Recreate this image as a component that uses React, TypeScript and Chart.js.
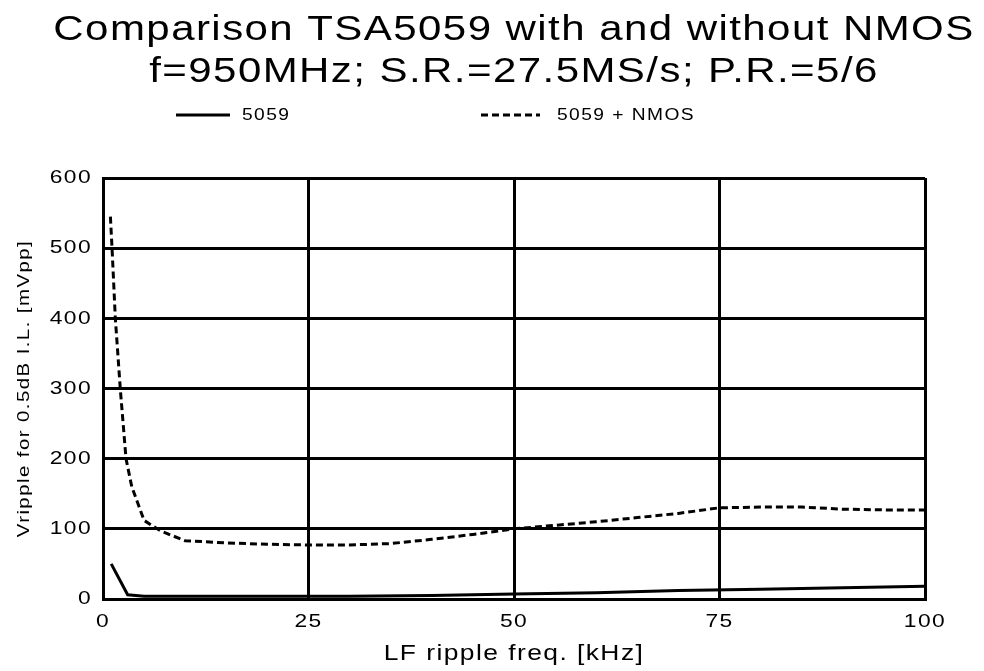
import { useEffect, useRef } from "react";
import { Chart, registerables } from "chart.js";

Chart.register(...registerables);

// ---- data ----
const titleLines = [
  "Comparison TSA5059 with and without NMOS",
  "f=950MHz; S.R.=27.5MS/s; P.R.=5/6",
];
const seriesNames = ["5059", "5059 + NMOS"];
const xAxisTitle = "LF ripple freq. [kHz]";
const yAxisTitle = "Vripple for 0.5dB I.L. [mVpp]";
const xTickValues = [0, 25, 50, 75, 100];
const yTickValues = [0, 100, 200, 300, 400, 500, 600];

const freqPlain = [1, 3, 5, 10, 20, 30, 40, 45, 50, 60, 70, 80, 90, 100];
const ripplePlain = [50, 6, 4, 4, 4, 4, 5, 6, 7, 9, 12, 14, 16, 18];

const freqNmos = [0.9, 1.1, 1.5, 2.1, 2.8, 3.5, 5, 7, 10, 15, 20, 25, 30, 35, 40, 45, 50, 55, 60, 65, 70, 75, 80, 85, 90, 95, 100];
const rippleNmos = [545, 500, 400, 300, 200, 160, 112, 97, 83, 80, 78, 77, 77, 79, 85, 92, 100, 105, 110, 116, 122, 130, 131, 131, 128, 127, 127];

// ---- text look: wide, lightly spaced glyphs ----
const TEXT_STRETCH = 1.2;
const LETTER_SPACING = "1.2px";
const FONT = "'Liberation Sans', Arial, sans-serif";

const stretchTextPlugin = {
  id: "stretchText",
  beforeInit(chart: any) {
    const ctx = chart.ctx as any;
    if (ctx.__stretched) return;
    const fill = ctx.fillText.bind(ctx);
    const measure = ctx.measureText.bind(ctx);
    ctx.fillText = (text: string, x: number, y: number) => {
      ctx.save();
      ctx.letterSpacing = LETTER_SPACING;
      ctx.translate(x, y);
      ctx.scale(TEXT_STRETCH, 1);
      fill(text, 0, 0);
      ctx.restore();
    };
    ctx.measureText = (text: string) => {
      const prev = ctx.letterSpacing;
      ctx.letterSpacing = LETTER_SPACING;
      const m = measure(text);
      ctx.letterSpacing = prev;
      return {
        width: m.width * TEXT_STRETCH,
        actualBoundingBoxAscent: m.actualBoundingBoxAscent,
        actualBoundingBoxDescent: m.actualBoundingBoxDescent,
        actualBoundingBoxLeft: m.actualBoundingBoxLeft * TEXT_STRETCH,
        actualBoundingBoxRight: m.actualBoundingBoxRight * TEXT_STRETCH,
        fontBoundingBoxAscent: m.fontBoundingBoxAscent,
        fontBoundingBoxDescent: m.fontBoundingBoxDescent,
      };
    };
    ctx.__stretched = true;
  },
};

// legend with line samples placed above the plot
const lineLegendPlugin = {
  id: "lineLegend",
  afterDraw(chart: any) {
    const { ctx, chartArea } = chart;
    const y = chartArea.top - 63;
    const slots = [
      { x0: 73, x1: 127, tx: 139 },
      { x0: 378, x1: 437, tx: 454 },
    ];
    chart.data.datasets.forEach((ds: any, i: number) => {
      const s = slots[i];
      if (!s) return;
      ctx.save();
      ctx.strokeStyle = ds.borderColor;
      ctx.lineWidth = ds.borderWidth;
      ctx.setLineDash(ds.borderDash || []);
      ctx.beginPath();
      ctx.moveTo(chartArea.left + s.x0, y);
      ctx.lineTo(chartArea.left + s.x1, y);
      ctx.stroke();
      ctx.setLineDash([]);
      ctx.fillStyle = "#000";
      ctx.font = `16px ${FONT}`;
      ctx.textAlign = "left";
      ctx.textBaseline = "middle";
      ctx.fillText(ds.label, chartArea.left + s.tx, y + 1);
      ctx.restore();
    });
  },
};

export default function App() {
  const canvasRef = useRef<HTMLCanvasElement | null>(null);

  useEffect(() => {
    if (!canvasRef.current) return;
    const chart = new Chart(canvasRef.current, {
      type: "line",
      data: {
        datasets: [
          {
            label: seriesNames[0],
            data: freqPlain.map((f, i) => ({ x: f, y: ripplePlain[i] })),
            borderColor: "#000",
            borderWidth: 3,
            pointRadius: 0,
            tension: 0,
            fill: false,
          },
          {
            label: seriesNames[1],
            data: freqNmos.map((f, i) => ({ x: f, y: rippleNmos[i] })),
            borderColor: "#000",
            borderWidth: 3,
            borderDash: [7, 4],
            pointRadius: 0,
            tension: 0,
            fill: false,
          },
        ],
      },
      options: {
        animation: false,
        responsive: true,
        maintainAspectRatio: false,
        layout: { padding: { left: 0, right: 59, top: 0, bottom: 0 } },
        plugins: {
          legend: { display: false },
          tooltip: { enabled: false },
          title: {
            display: true,
            fullSize: false,
            text: titleLines,
            color: "#000",
            font: { family: FONT, size: 35, weight: "normal", lineHeight: 1.2 },
            padding: { top: 9, bottom: 85 },
          },
        },
        scales: {
          x: {
            type: "linear",
            min: 0,
            max: 100,
            afterBuildTicks: (s: any) => {
              s.ticks = xTickValues.map((v) => ({ value: v }));
            },
            afterFit: (s: any) => {
              s.height = 72;
            },
            grid: { color: "#000", lineWidth: 3, drawTicks: false },
            border: { color: "#000", width: 3 },
            ticks: {
              color: "#000",
              padding: 11,
              font: { family: FONT, size: 19, lineHeight: 1.2 },
              maxRotation: 0,
            },
            title: {
              display: true,
              text: xAxisTitle,
              color: "#000",
              font: { family: FONT, size: 22, lineHeight: 1.2 },
              padding: { top: 0, bottom: 4 },
            },
          },
          y: {
            type: "linear",
            min: 0,
            max: 600,
            afterBuildTicks: (s: any) => {
              s.ticks = yTickValues.map((v) => ({ value: v }));
            },
            afterFit: (s: any) => {
              s.width = 103;
            },
            grid: { color: "#000", lineWidth: 3, drawTicks: false },
            border: { color: "#000", width: 3 },
            ticks: {
              color: "#000",
              padding: 11,
              font: { family: FONT, size: 19, lineHeight: 1.2 },
            },
            title: {
              display: true,
              text: yAxisTitle,
              color: "#000",
              font: { family: FONT, size: 17, lineHeight: 1.2 },
              padding: { top: 14, bottom: 0 },
            },
          },
        },
      },
      plugins: [stretchTextPlugin, lineLegendPlugin],
    });
    return () => chart.destroy();
  }, []);

  return (
    <div
      style={{
        position: "absolute",
        left: 0,
        top: 0,
        width: 984,
        height: 671,
        background: "#fff",
      }}
    >
      <canvas ref={canvasRef} />
    </div>
  );
}
